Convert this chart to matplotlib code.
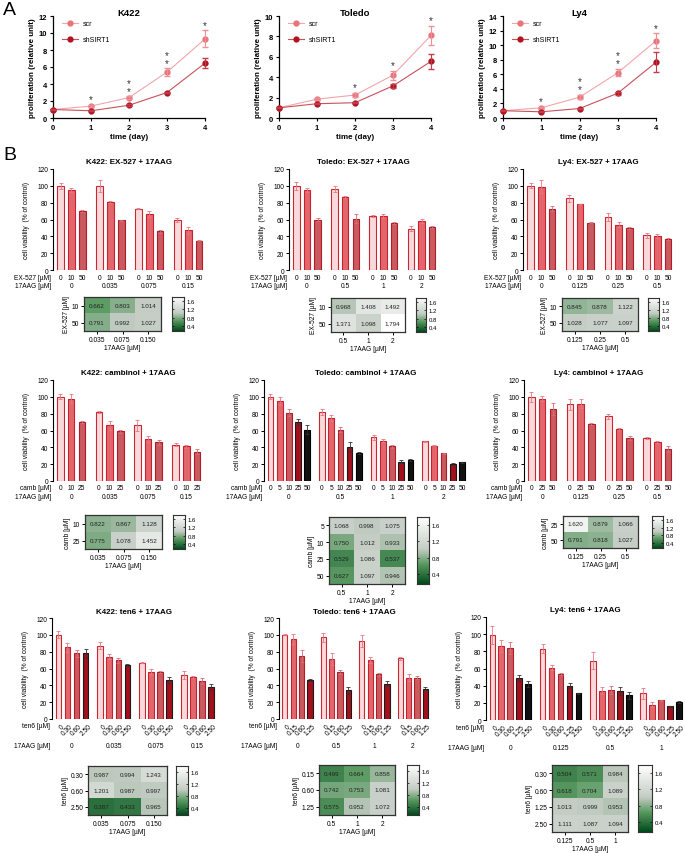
import numpy as np
import matplotlib.pyplot as plt
from matplotlib.colors import LinearSegmentedColormap

plt.rcParams['font.family'] = ['Liberation Sans', 'DejaVu Sans']

W, H = 685, 854

# ---------------- panel A data ----------------
days = [0, 1, 2, 3, 4]
k422_scr = [1.0, 1.4, 2.4, 5.4, 9.3]
k422_scr_e = [0.05, 0.1, 0.15, 0.45, 1.0]
k422_sh = [1.0, 0.85, 1.5, 3.0, 6.45]
k422_sh_e = [0.05, 0.05, 0.1, 0.1, 0.6]
k422_stars = [0, 1, 2, 2, 1]

tol_scr = [1.0, 1.85, 2.25, 4.2, 8.1]
tol_scr_e = [0.05, 0.1, 0.2, 0.45, 0.9]
tol_sh = [1.0, 1.4, 1.5, 3.15, 5.55]
tol_sh_e = [0.05, 0.05, 0.05, 0.2, 0.7]
tol_stars = [0, 0, 1, 1, 1]

ly4_scr = [1.0, 1.4, 2.85, 6.2, 10.6]
ly4_scr_e = [0.05, 0.1, 0.3, 0.5, 1.0]
ly4_sh = [1.0, 0.85, 1.3, 3.4, 7.65]
ly4_sh_e = [0.05, 0.05, 0.1, 0.2, 1.4]
ly4_stars = [0, 1, 2, 2, 1]

# ---------------- panel B data ----------------
# EX-527 row
ex_doses = ['0', '10', '50']
k422_ex_groups = ['0', '0.035', '0.075', '0.15']
k422_ex = [[100, 95, 70], [100, 81, 59], [73, 67, 46], [59, 47, 35]]
k422_ex_e = [[3.5, 2, 1.5], [7, 1.5, 0.5], [1, 3.5, 2], [2.5, 4, 1]]
tol_ex_groups = ['0', '0.5', '1', '2']
tol_ex = [[100, 95, 60], [96, 87, 61], [64, 64, 56], [49, 58, 51]]
tol_ex_e = [[5, 2, 2], [3.5, 1.5, 5], [1, 2.5, 1], [3, 2.5, 1.5]]
ly4_ex_groups = ['0', '0.125', '0.25', '0.5']
ly4_ex = [[100, 99, 73], [85, 78, 56], [63, 54, 50], [41, 40, 37]]
ly4_ex_e = [[3, 8, 2.5], [4, 1, 0.5], [4.5, 2.5, 1], [2.5, 2.5, 1.5]]

# cambinol row
k422_camb_doses = ['0', '10', '25']
k422_camb = [[100, 98, 70], [82, 66, 59], [66, 50, 46], [43, 41, 35]]
k422_camb_e = [[3, 5, 1], [1, 5, 2], [7, 4, 3], [2, 2, 3]]
tol_camb_doses = ['0', '5', '10', '25', '50']
tol_camb = [[100, 95, 81, 70, 61], [82, 75, 61, 40, 33], [52, 48, 41, 23, 25], [47, 42, 33, 20, 22]]
tol_camb_e = [[3, 5, 4, 4, 5], [3, 4, 3, 6, 1.5], [3, 2, 2, 2, 1.5], [1, 1, 0.5, 1.5, 1]]
ly4_camb_doses = ['0', '25', '50']
ly4_camb = [[100, 98, 86], [91, 92, 68], [77, 62, 51], [51, 46, 38]]
ly4_camb_e = [[6, 3.5, 7], [7, 5, 1.5], [3, 1, 2.5], [1, 1, 4]]

# ten6 row
k422_ten_doses = ['0', '0.30', '0.60', '2.50']
k422_ten = [[100, 85, 78, 78], [87, 74, 70, 64], [67, 56, 56, 46], [52, 50, 45, 38]]
k422_ten_e = [[4, 5, 4, 5], [4, 3, 3, 1.5], [0.5, 3.5, 1.5, 3.5], [5, 1.5, 3.5, 4]]
tol_ten_doses = ['0', '0.15', '0.60', '1.25']
tol_ten = [[100, 95, 75, 46], [97, 71, 56, 34], [93, 70, 53, 42], [72, 49, 49, 36]]
tol_ten_e = [[0.5, 6, 7, 1], [5, 7, 2, 4], [7, 4, 1.5, 3], [2, 4, 2, 1.5]]
ly4_ten_groups = ['0', '0.125', '0.5', '1']
ly4_ten_doses = ['0', '0.30', '0.60', '1.25', '2.50']
ly4_ten = [[99, 86, 84, 49, 42], [83, 61, 54, 40, 31], [69, 34, 35, 34, 29], [31, 18, 23, 16, 21]]
ly4_ten_e = [[10, 7, 7, 3, 4], [5, 3, 1, 3, 0.5], [10, 4, 5, 5, 4], [6, 3, 0.5, 0.5, 1]]

# heatmaps (combination index)
hm_k422_ex = [[0.662, 0.803, 1.014], [0.791, 0.992, 1.027]]
hm_tol_ex = [[0.968, 1.408, 1.492], [1.371, 1.098, 1.794]]
hm_ly4_ex = [[0.845, 0.878, 1.122], [1.028, 1.077, 1.097]]
hm_k422_camb = [[0.822, 0.867, 1.128], [0.775, 1.078, 1.452]]
hm_tol_camb = [[1.068, 0.998, 1.075], [0.750, 1.012, 0.933], [0.529, 1.086, 0.537], [0.627, 1.097, 0.946]]
hm_ly4_camb = [[1.620, 0.879, 1.066], [0.791, 0.818, 1.027]]
hm_k422_ten = [[0.987, 0.994, 1.243], [1.201, 0.987, 0.997], [0.387, 0.433, 0.965]]
hm_tol_ten = [[0.499, 0.664, 0.858], [0.742, 0.753, 1.081], [0.575, 0.952, 1.072]]
hm_ly4_ten = [[0.504, 0.571, 0.984], [0.618, 0.704, 1.089], [1.013, 0.999, 0.953], [1.111, 1.087, 1.094]]

k422_cols = ['0.035', '0.075', '0.150']
tol_cols = ['0.5', '1', '2']
ly4_cols = ['0.125', '0.25', '0.5']
ly4_ten_cols = ['0.125', '0.5', '1']

# fill, edge, errorbar colour
STY = {'light': ('#f8dadc', '#cc2632', '#e47880'),
       'mid': ('#e4666d', '#c8202c', '#e47880'),
       'muted': ('#c95a60', '#b31b27', '#d86d75'),
       'dark': ('#a30f1b', '#1a1a1a', '#333333'),
       'black': ('#111111', '#000000', '#333333')}

cmap = LinearSegmentedColormap.from_list('ci', [(0, '#004a1c'), (0.3, '#5a9a62'),
                                                (0.52, '#c4ccc4'), (1, '#ffffff')])
VMIN, VMAX = 0.15, 1.8

fig = plt.figure(figsize=(W / 100, H / 100), dpi=100)


def px_axes(l, t, r, b):
    return fig.add_axes([l / W, 1 - b / H, (r - l) / W, (b - t) / H])


def lineplot(rect, title, ymax, scr, scr_e, sh, sh_e, stars):
    ax = px_axes(*rect)
    hpx = rect[3] - rect[1]
    ax.plot(days, scr, '-o', color='#f2a5aa', mfc='#e8737b', mec='#e8737b', ms=3.5, lw=0.8,
            clip_on=False, zorder=3, label='scr')
    ax.errorbar(days, scr, yerr=scr_e, fmt='none', ecolor='#ee9098', elinewidth=0.8, capsize=2,
                clip_on=False, zorder=3)
    ax.plot(days, sh, '-o', color='#c9505c', mfc='#b0131f', mec='#b0131f', ms=3.5, lw=0.8,
            clip_on=False, zorder=4, label='shSIRT1')
    ax.errorbar(days, sh, yerr=sh_e, fmt='none', ecolor='#c43a48', elinewidth=0.8, capsize=2,
                clip_on=False, zorder=4)
    for d, k in zip(days, stars):
        if k == 0:
            continue
        top = scr[d] + scr_e[d]
        ax.annotate('\n'.join(['*'] * k), (d, top), xytext=(0, 0.5), textcoords='offset points',
                    ha='center', va='bottom', fontsize=7, linespacing=0.75, color='#333333')
    ax.set_xlim(0, 4)
    ax.set_ylim(0, ymax)
    ax.set_xticks(days)
    ax.set_yticks(range(0, ymax + 1, 2))
    for s in ['top', 'right']:
        ax.spines[s].set_visible(False)
    for s in ['left', 'bottom']:
        ax.spines[s].set_linewidth(0.9)
    ax.tick_params(labelsize=5.5, length=2.5, width=0.8, pad=1.5)
    for lab in ax.get_xticklabels() + ax.get_yticklabels():
        lab.set_fontweight('bold')
    ax.set_xlabel('time (day)', fontsize=5.8, fontweight='bold', labelpad=1.5)
    ax.set_ylabel('proliferation (relative unit)', fontsize=5.8, fontweight='bold', labelpad=2)
    ax.text(0.5, 1 + 3 / hpx, title, transform=ax.transAxes, ha='center', va='center',
            fontsize=6.8, fontweight='bold')
    ax.legend(loc='upper left', bbox_to_anchor=(0.02, 1.02), frameon=False, fontsize=5,
              handlelength=2.2, labelspacing=1.3, handletextpad=0.8)


def barchart(rect, title, dose_name, doses, groups, vals, errs, styles, rot=False, ylab_off=23):
    ax = px_axes(*rect)
    wpx = rect[2] - rect[0]
    hpx = rect[3] - rect[1]
    n = len(doses)
    tr = ax.get_xaxis_transform()
    for g in range(len(groups)):
        for i in range(n):
            x = g * (n + 0.6) + i
            fc, ec, erc = STY[styles[i]]
            ax.bar(x, vals[g][i], width=0.62, color=fc, edgecolor=ec, linewidth=0.8, zorder=2)
            ax.errorbar(x, vals[g][i], yerr=errs[g][i], fmt='none', ecolor=erc, elinewidth=0.6,
                        capsize=1.6, capthick=0.6, zorder=3)
            if rot:
                ax.text(x + 0.25, -3.5 / hpx, doses[i], transform=tr, rotation=45, ha='right',
                        va='top', rotation_mode='anchor', fontsize=4.8)
            else:
                ax.text(x, -7 / hpx, doses[i], transform=tr, ha='center', va='center', fontsize=4.8)
        gx = g * (n + 0.6) + (n - 1) / 2
        ax.text(gx, -(27 if rot else 16) / hpx, groups[g], transform=tr, ha='center',
                va='center', fontsize=4.8)
    ax.text(-2 / wpx, -7 / hpx, dose_name + ' [µM]', transform=ax.transAxes, ha='right',
            va='center', fontsize=4.8)
    ax.text(-2 / wpx, -(27 if rot else 16) / hpx, '17AAG [µM]', transform=ax.transAxes,
            ha='right', va='center', fontsize=4.8)
    last = (len(groups) - 1) * (n + 0.6) + n - 1
    ax.set_xlim(-0.7, last + 0.55)
    ax.set_ylim(0, 120)
    ax.set_xticks([])
    ax.set_yticks(range(0, 121, 20))
    for s in ['top', 'right', 'bottom']:
        ax.spines[s].set_visible(False)
    ax.spines['left'].set_linewidth(0.8)
    ax.tick_params(labelsize=4.8, length=2.5, width=0.7, pad=1)
    ax.set_ylabel('cell viability  (% of control)', fontsize=4.8)
    ax.yaxis.set_label_coords(-ylab_off / wpx, 0.5)
    ax.text(0.5, 1 + 7 / hpx, title, transform=ax.transAxes, ha='center', va='center',
            fontsize=5.8, fontweight='bold')


def heatmap(rect, cbrect, vals, rows, cols, rname):
    ax = px_axes(*rect)
    arr = np.array(vals)
    ax.imshow(arr, cmap=cmap, vmin=VMIN, vmax=VMAX, aspect='auto')
    for i in range(arr.shape[0]):
        for j in range(arr.shape[1]):
            ax.text(j, i, f'{arr[i, j]:.3f}', ha='center', va='center', fontsize=4.5, color='#222222')
    ax.set_xticks(range(len(cols)))
    ax.set_xticklabels(cols)
    ax.set_yticks(range(len(rows)))
    ax.set_yticklabels(rows)
    ax.tick_params(labelsize=4.8, length=2.5, width=0.7, pad=1)
    ax.set_xlabel('17AAG [µM]', fontsize=4.8, labelpad=0.5)
    ax.set_ylabel(rname + ' [µM]', fontsize=4.8, labelpad=1)
    for s in ax.spines.values():
        s.set_linewidth(0.9)
        s.set_color('#333333')
    cax = px_axes(*cbrect)
    grad = np.linspace(VMIN, VMAX, 256)[:, None]
    cax.imshow(grad, origin='lower', cmap=cmap, vmin=VMIN, vmax=VMAX, aspect='auto',
               extent=[0, 1, VMIN, VMAX])
    cax.set_xticks([])
    cax.set_yticks([0.4, 0.8, 1.2, 1.6])
    cax.yaxis.tick_right()
    cax.tick_params(axis='y', labelsize=4.3, length=1.5, width=0.5, direction='in',
                    left=True, right=True, pad=2)
    for s in cax.spines.values():
        s.set_linewidth(0.8)
        s.set_color('#333333')


# ---------------- panel A ----------------
fig.text(3 / W, 1 - 2 / H, 'A', fontsize=14, va='top', ha='left')
lineplot((53, 17, 205, 119), 'K422', 12, k422_scr, k422_scr_e, k422_sh, k422_sh_e, k422_stars)
lineplot((279, 17, 431, 119), 'Toledo', 10, tol_scr, tol_scr_e, tol_sh, tol_sh_e, tol_stars)
lineplot((503, 17, 656, 119), 'Ly4', 14, ly4_scr, ly4_scr_e, ly4_sh, ly4_sh_e, ly4_stars)

# ---------------- panel B ----------------
fig.text(3 / W, 1 - 147 / H, 'B', fontsize=14, va='top', ha='left')
s3 = ['light', 'mid', 'muted']
barchart((53, 170, 205, 271), 'K422: EX-527 + 17AAG', 'EX-527', ex_doses, k422_ex_groups,
         k422_ex, k422_ex_e, s3)
barchart((289, 170, 438, 271), 'Toledo: EX-527 + 17AAG', 'EX-527', ex_doses, tol_ex_groups,
         tol_ex, tol_ex_e, s3)
barchart((523, 170, 674, 271), 'Ly4: EX-527 + 17AAG', 'EX-527', ex_doses, ly4_ex_groups,
         ly4_ex, ly4_ex_e, s3)
heatmap((84, 298, 161, 332), (172, 298, 184, 332), hm_k422_ex, ['10', '50'], k422_cols, 'EX-527')
heatmap((331, 299, 405, 333), (416, 299, 426, 333), hm_tol_ex, ['10', '50'], tol_cols, 'EX-527')
heatmap((562, 299, 638, 332), (648, 299, 659, 332), hm_ly4_ex, ['10', '50'], ly4_cols, 'EX-527')

barchart((53, 381, 203, 482), 'K422: cambinol + 17AAG', 'camb', k422_camb_doses, k422_ex_groups,
         k422_camb, k422_camb_e, s3)
barchart((264, 381, 467, 482), 'Toledo: cambinol + 17AAG', 'camb', tol_camb_doses, tol_ex_groups,
         tol_camb, tol_camb_e, ['light', 'mid', 'muted', 'dark', 'black'])
barchart((524, 381, 674, 482), 'Ly4: cambinol + 17AAG', 'camb', ly4_camb_doses, ly4_ex_groups,
         ly4_camb, ly4_camb_e, s3)
heatmap((85, 516, 162, 550), (173, 516, 185, 550), hm_k422_camb, ['10', '25'], k422_cols, 'camb')
heatmap((329, 518, 405, 585), (417, 518, 429, 585), hm_tol_camb, ['5', '10', '25', '50'],
        tol_cols, 'camb')
heatmap((563, 517, 638, 549), (652, 517, 663, 549), hm_ly4_camb, ['25', '50'], ly4_cols, 'camb')

barchart((52, 619, 216, 720), 'K422: ten6 + 17AAG', 'ten6', k422_ten_doses, k422_ex_groups,
         k422_ten, k422_ten_e, ['light', 'mid', 'muted', 'dark'], rot=True)
barchart((279, 619, 430, 720), 'Toledo: ten6 + 17AAG', 'ten6', tol_ten_doses, tol_ex_groups,
         tol_ten, tol_ten_e, ['light', 'mid', 'muted', 'dark'], rot=True)
barchart((486, 618, 684, 721), 'Ly4: ten6 + 17AAG', 'ten6', ly4_ten_doses, ly4_ten_groups,
         ly4_ten, ly4_ten_e, ['light', 'mid', 'muted', 'dark', 'black'], rot=True)
heatmap((88, 767, 167, 816), (176, 767, 188, 816), hm_k422_ten, ['0.30', '0.60', '2.50'],
        k422_cols, 'ten6')
heatmap((319, 766, 395, 816), (407, 766, 419, 816), hm_tol_ten, ['0.15', '0.60', '1.25'],
        tol_cols, 'ten6')
heatmap((552, 766, 628, 833), (638, 766, 652, 833), hm_ly4_ten, ['0.30', '0.60', '1.25', '2.50'],
        ly4_ten_cols, 'ten6')

fig.savefig('out.png', dpi=100)
